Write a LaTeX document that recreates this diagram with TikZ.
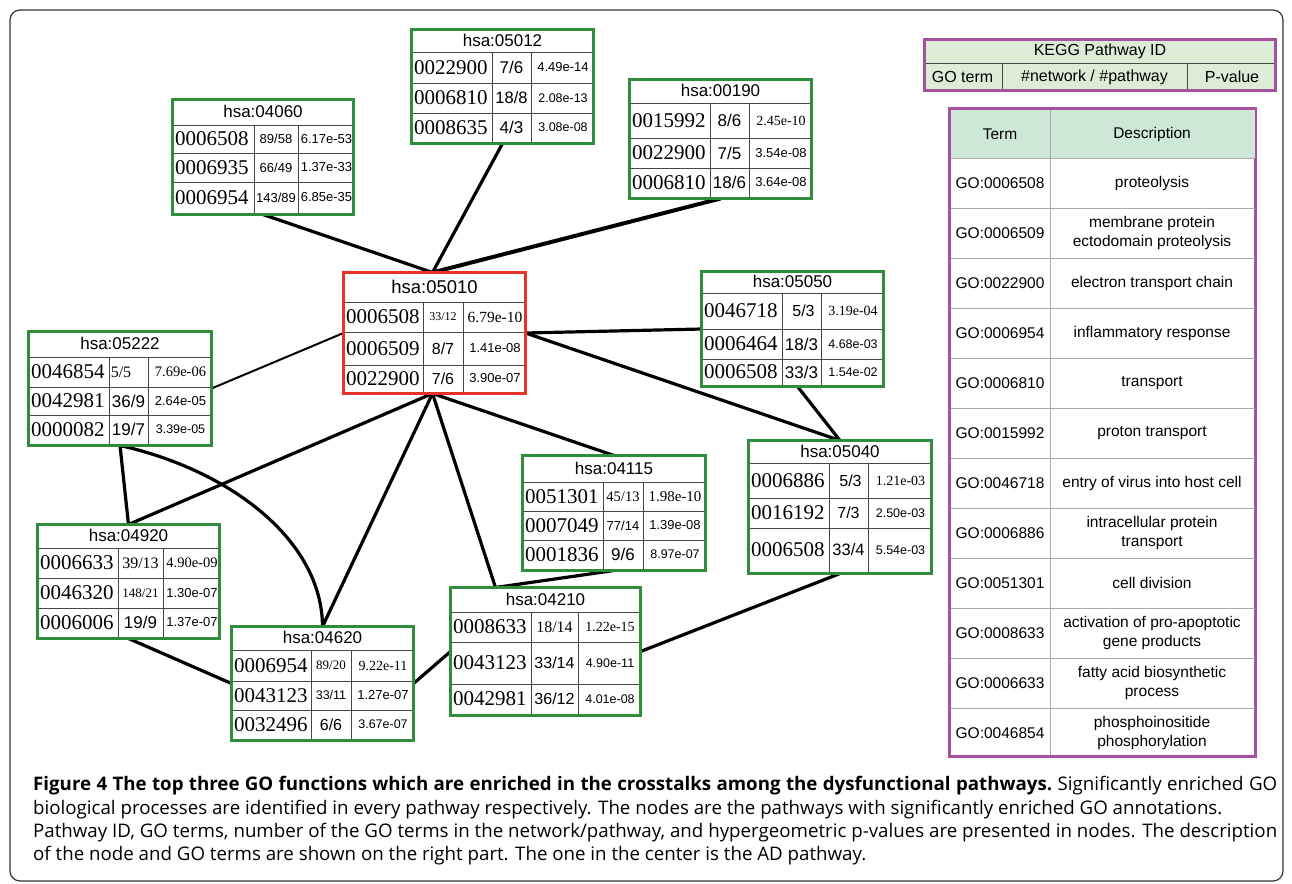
\documentclass[tikz,border=0pt]{standalone}
\usepackage{fontspec}
\setmainfont{Liberation Serif}
\setsansfont{Liberation Sans}
\newfontfamily\capfont{Open Sans}
\usetikzlibrary{calc}
\pgfdeclarelayer{bg}
\pgfsetlayers{bg,main}
\definecolor{pgreen}{RGB}{46,140,58}
\definecolor{pred}{RGB}{232,50,40}
\definecolor{ppurple}{RGB}{165,80,160}
\definecolor{lgreen}{RGB}{220,236,214}
\definecolor{thgreen}{RGB}{206,232,216}
\definecolor{gridgray}{RGB}{70,70,70}
\definecolor{tgray}{RGB}{170,170,170}
\newcommand\Sx[1]{\fontsize{#1}{#1}\selectfont\sffamily}
\newcommand\Rx[1]{\fontsize{#1}{#1}\selectfont\rmfamily}
\newcommand\Tfont{\fontsize{15.5}{19}\selectfont\sffamily}
\newcommand\Cfont{\capfont\fontsize{18.7}{23}\selectfont}
\tikzset{
  pframe/.style={line width=3pt, fill=white, inner sep=0pt, outer sep=0pt},
  hdr/.style={inner sep=0pt, font=\Sx{17}},
  idt/.style={inner sep=0pt, font=\Rx{21}},
  cell/.style={inner sep=0pt},
  gridl/.style={draw=gridgray, line width=0.9pt},
  tgrid/.style={draw=tgray, line width=0.9pt},
  conn/.style={line width=3.2pt, draw=black},
  tt/.style={inner sep=0pt, font=\Tfont, align=center},
  capl/.style={inner sep=0pt, anchor=base west, font=\Cfont},
}
\newcommand\pbox[9]{%
  \def\xa{#2}\def\ya{#3}\def\xb{#4}\def\yb{#5}\def\hb{#6}\def\ca{#7}\def\cb{#8}%
  \node[pframe, draw=#9, anchor=north west, minimum width={#4-#2-3}, minimum height={#5-#3-3}] (#1) at (#2+1.5,#3+1.5) {};
  \draw[gridl] (#2+3,#6) -- (#4-3,#6);
  \draw[gridl] (#7,#6) -- (#7,#5-3);
  \draw[gridl] (#8,#6) -- (#8,#5-3);
}
\newcommand\pline[1]{\draw[gridl] (\xa+3,#1) -- (\xb-3,#1);}
\newcommand\phead[2]{\node[hdr] (#1) at ({(\xa+\xb)/2},{(\ya+\hb)/2}) {#2};}
\newcommand\prow[6]{%
  \node[idt, anchor=west] (#1a) at (\xa+4,{(#2+#3)/2}) {#4};
  \node[cell] (#1b) at ({(\ca+\cb)/2},{(#2+#3)/2}) {#5};
  \node[cell] (#1c) at ({(\cb+\xb)/2},{(#2+#3)/2}) {#6};
}
\newcommand\trow[4]{%
  \node[tt] (tr#1) at (1000,#2) {#3};
  \node[tt] (td#1) at (1152,#2) {#4};
}
\begin{document}
\begin{tikzpicture}[x=1pt,y=-1pt]
\useasboundingbox (0,0) rectangle (1292,883);

% ---------- pathway nodes ----------
\pbox{n04060}{171}{98}{355}{216}{125}{254}{298}{pgreen}
\phead{n04060h}{hsa:04060}
\pline{153}\pline{182}
\prow{n04060r1}{125}{153}{0006508}{\Sx{13}89/58}{\Sx{13}6.17e-53}
\prow{n04060r2}{153}{182}{0006935}{\Sx{13}66/49}{\Sx{13}1.37e-33}
\prow{n04060r3}{182}{213}{0006954}{\Sx{13}143/89}{\Sx{13}6.85e-35}

\pbox{n05012}{410}{28}{595}{145}{52}{492}{531}{pgreen}
\phead{n05012h}{hsa:05012}
\pline{83}\pline{113}
\prow{n05012r1}{52}{83}{0022900}{\Sx{17}7/6}{\Sx{13}4.49e-14}
\prow{n05012r2}{83}{113}{0006810}{\Sx{16.5}18/8}{\Sx{12.5}2.08e-13}
\prow{n05012r3}{113}{142}{0008635}{\Sx{17}4/3}{\Sx{12.5}3.08e-08}

\pbox{n00190}{628}{78}{813}{200}{103}{710}{749}{pgreen}
\phead{n00190h}{hsa:00190}
\pline{138}\pline{168}
\prow{n00190r1}{103}{138}{0015992}{\Sx{17}8/6}{\Rx{14}2.45e-10}
\prow{n00190r2}{138}{168}{0022900}{\Sx{17}7/5}{\Sx{13}3.54e-08}
\prow{n00190r3}{168}{197}{0006810}{\Sx{17}18/6}{\Sx{13}3.64e-08}

\pbox{n05010}{342}{271}{527}{395}{302}{423}{463}{pred}
\phead{n05010h}{\Sx{18.5}hsa:05010}
\pline{332}\pline{365}
\prow{n05010r1}{302}{332}{0006508}{\Rx{12}33/12}{\Rx{15.5}6.79e-10}
\prow{n05010r2}{332}{365}{0006509}{\Sx{16}8/7}{\Sx{13}1.41e-08}
\prow{n05010r3}{365}{392}{0022900}{\Sx{16}7/6}{\Sx{13}3.90e-07}

\pbox{n05222}{27}{330}{213}{447}{357}{109}{148}{pgreen}
\phead{n05222h}{hsa:05222}
\pline{387}\pline{415}
\prow{n05222r1}{357}{387}{0046854}{\Rx{16}5/5\hspace*{15pt}}{\Rx{14.5}7.69e-06}
\prow{n05222r2}{387}{415}{0042981}{\Sx{17}36/9}{\Sx{13}2.64e-05}
\prow{n05222r3}{415}{444}{0000082}{\Sx{17}19/7}{\Sx{12.5}3.39e-05}

\pbox{n05050}{700}{270}{885}{388}{293}{782}{821}{pgreen}
\phead{n05050h}{hsa:05050}
\pline{329}\pline{359}
\prow{n05050r1}{293}{329}{0046718}{\Sx{16}\hspace*{4pt}5/3}{\Rx{14}3.19e-04}
\prow{n05050r2}{329}{359}{0006464}{\Sx{17}18/3}{\Sx{12.5}4.68e-03}
\prow{n05050r3}{359}{385}{0006508}{\Sx{17}33/3}{\Sx{12.5}1.54e-02}

\pbox{n05040}{747}{439}{933}{575}{463}{829}{868}{pgreen}
\phead{n05040h}{hsa:05040}
\pline{498}\pline{528}
\prow{n05040r1}{463}{498}{0006886}{\Sx{16}\hspace*{4pt}5/3}{\Rx{14}1.21e-03}
\prow{n05040r2}{498}{528}{0016192}{\Sx{16}7/3}{\Sx{12.5}2.50e-03}
\prow{n05040r3}{528}{572}{0006508}{\Sx{16.5}33/4}{\Sx{12.5}5.54e-03}

\pbox{n04115}{521}{454}{707}{572}{482}{603}{643}{pgreen}
\phead{n04115h}{hsa:04115}
\pline{511}\pline{540}
\prow{n04115r1}{482}{511}{0051301}{\Rx{14.5}45/13}{\Rx{15}1.98e-10}
\prow{n04115r2}{511}{540}{0007049}{\Sx{13}77/14}{\Sx{13}1.39e-08}
\prow{n04115r3}{540}{569}{0001836}{\Sx{17}9/6}{\Sx{12.5}8.97e-07}

\pbox{n04920}{36}{523}{221}{640}{548}{118}{163}{pgreen}
\phead{n04920h}{hsa:04920}
\pline{578}\pline{608}
\prow{n04920r1}{548}{578}{0006633}{\Rx{16}39/13}{\Rx{14.5}4.90e-09}
\prow{n04920r2}{578}{608}{0046320}{\Rx{13}148/21}{\Sx{13}1.30e-07}
\prow{n04920r3}{608}{637}{0006006}{\Sx{17}19/9}{\Sx{13}1.37e-07}

\pbox{n04620}{230}{625}{415}{742}{650}{311}{351}{pgreen}
\phead{n04620h}{hsa:04620}
\pline{681}\pline{710}
\prow{n04620r1}{650}{681}{0006954}{\Rx{13}89/20}{\Rx{14}9.22e-11}
\prow{n04620r2}{681}{710}{0043123}{\Sx{12.5}33/11}{\Sx{13}1.27e-07}
\prow{n04620r3}{710}{739}{0032496}{\Sx{16}6/6}{\Sx{12.5}3.67e-07}

\pbox{n04210}{449}{586}{642}{717}{612}{531}{578}{pgreen}
\phead{n04210h}{hsa:04210}
\pline{642}\pline{684}
\prow{n04210r1}{612}{642}{0008633}{\Rx{16}18/14}{\Rx{14}1.22e-15}
\prow{n04210r2}{642}{684}{0043123}{\Sx{16}33/14}{\Sx{12.5}4.90e-11}
\prow{n04210r3}{684}{714}{0042981}{\Sx{16}36/12}{\Sx{12.5}4.01e-08}

% ---------- connectors ----------
\begin{pgfonlayer}{bg}
\draw[black!80, line width=1.2pt, rounded corners=10pt] (10,10) rectangle (1283,881);
\draw[conn] (n04060.south) -- ([xshift=-2pt]n05010.north);
\draw[conn] (n05012.south) -- ([xshift=-2pt]n05010.north);
\draw[conn, line width=4pt] (n00190.south) -- ([xshift=-2pt]n05010.north);
\draw[conn, line width=2pt] (n05222.east) -- (n05010.west);
\draw[conn] (n05010.east) -- (n05050.west);
\draw[conn] (n05010.east) -- (n05040.north);
\draw[conn] ([xshift=5pt]n05050.south) -- (n05040.north);
\draw[conn] ([xshift=-2pt]n05010.south) -- (n04115.north);
\draw[conn] ([xshift=-2pt]n05010.south) -- (n04920.north);
\draw[conn] ([xshift=-2pt]n05010.south) -- (n04620.north);
\draw[conn] ([xshift=-2pt]n05010.south) -- ([xshift=-50pt]n04210.north);
\draw[conn] (n05222.south) -- (n04920.north);
\draw[conn] (n05222.south) .. controls (230,470) and (322,540) .. (n04620.north);
\draw[conn] (n04920.south) -- (n04620.west);
\draw[conn] (n04620.east) -- (n04210.west);
\draw[conn] (n04115.south) -- ([xshift=-50pt]n04210.north);
\draw[conn] (n04210.east) -- (n05040.south);
\end{pgfonlayer}

% ---------- legend ----------
\node[pframe, draw=ppurple, fill=lgreen, anchor=north west, minimum width=351, minimum height=51] (leg) at (924.5,39.5) {};
\draw[gridl] (926,63) -- (1274,63);
\draw[gridl] (1002,63) -- (1002,89);
\draw[gridl] (1187,63) -- (1187,89);
\node[inner sep=0pt, font=\Sx{16}] (legt) at (1100,51) {KEGG Pathway ID};
\node[inner sep=0pt, font=\Sx{16}] (leg1) at (962.5,77) {GO term};
\node[inner sep=0pt, font=\Sx{16}] (leg2) at (1094.5,77) {\#network / \#pathway};
\node[inner sep=0pt, font=\Sx{16}] (leg3) at (1232,77) {P-value};

% ---------- term table ----------
\node[pframe, draw=ppurple, anchor=north west, minimum width=306, minimum height=648] (tbl) at (949.5,108.5) {};
\fill[thgreen] (951,110) rectangle (1254.5,158);
\draw[tgrid] (951,158) -- (1254.5,158);
\draw[tgrid] (951,208) -- (1254.5,208);
\draw[tgrid] (951,258) -- (1254.5,258);
\draw[tgrid] (951,308) -- (1254.5,308);
\draw[tgrid] (951,358) -- (1254.5,358);
\draw[tgrid] (951,408) -- (1254.5,408);
\draw[tgrid] (951,458) -- (1254.5,458);
\draw[tgrid] (951,508) -- (1254.5,508);
\draw[tgrid] (951,558) -- (1254.5,558);
\draw[tgrid] (951,608) -- (1254.5,608);
\draw[tgrid] (951,658) -- (1254.5,658);
\draw[tgrid] (951,708) -- (1254.5,708);
\draw[tgrid] (1050,110) -- (1050,755);
\node[tt] (th1) at (1000,134) {Term};
\node[tt] (th2) at (1152,134) {Description};
\trow{0}{183}{GO:0006508}{proteolysis}
\trow{1}{233}{GO:0006509}{membrane protein\\ectodomain proteolysis}
\trow{2}{283}{GO:0022900}{electron transport chain}
\trow{3}{333}{GO:0006954}{inflammatory response}
\trow{4}{383}{GO:0006810}{transport}
\trow{5}{433}{GO:0015992}{proton transport}
\trow{6}{483}{GO:0046718}{entry of virus into host cell}
\trow{7}{533}{GO:0006886}{intracellular protein\\transport}
\trow{8}{583}{GO:0051301}{cell division}
\trow{9}{633}{GO:0008633}{activation of pro-apoptotic\\gene products}
\trow{10}{683}{GO:0006633}{fatty acid biosynthetic\\process}
\trow{11}{733}{GO:0046854}{phosphoinositide\\phosphorylation}

% ---------- caption ----------
\node[capl] (cap1) at (33,790) {\makebox[1244pt][s]{\bfseries Figure 4 The top three GO functions which are enriched in the crosstalks among the dysfunctional pathways.\mdseries\ Significantly enriched GO}};
\node[capl] (cap2) at (33,814) {biological processes are identified in every pathway respectively. The nodes are the pathways with significantly enriched GO annotations.};
\node[capl] (cap3) at (33,837) {\makebox[1244pt][s]{Pathway ID, GO terms, number of the GO terms in the network/pathway, and hypergeometric p-values are presented in nodes. The description}};
\node[capl] (cap4) at (33,860) {of the node and GO terms are shown on the right part. The one in the center is the AD pathway.};
\end{tikzpicture}
\end{document}
